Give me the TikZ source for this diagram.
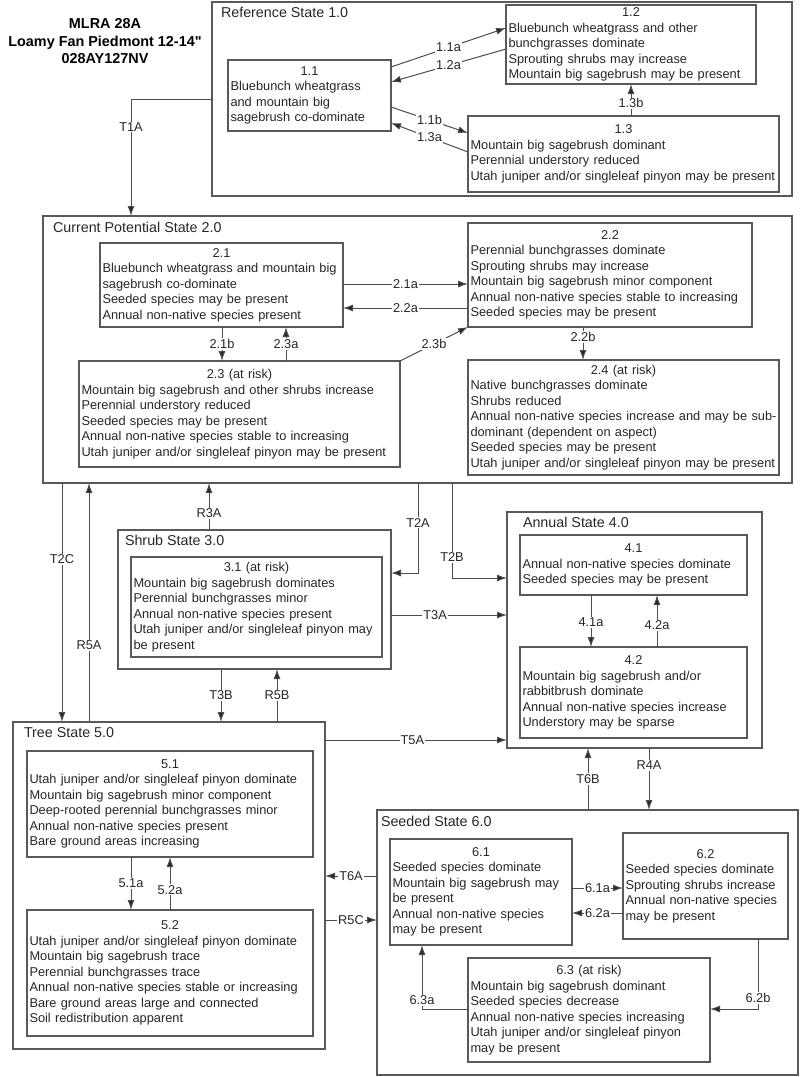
\documentclass[tikz,border=0pt]{standalone}
\usepackage{fontspec}
\setmainfont{Liberation Sans}
\newfontfamily\plainq{Liberation Sans}
\usepackage{tikz}
\usetikzlibrary{arrows.meta}

\newcommand{\hd}[1]{\makebox[\linewidth]{#1}\\}

\begin{document}
\begin{tikzpicture}[x=1pt, y=-1pt,
  every node/.style={outer sep=0pt, text=black!85},
  state/.style={draw=black!65, line width=1.4pt, anchor=north west, inner sep=0pt},
  phase/.style={draw=black!65, line width=1.1pt, anchor=north west, inner xsep=2.5pt, inner ysep=0pt, align=left, font=\fontsize{12.8}{15.5}\selectfont},
  tag/.style={anchor=west, inner sep=0pt, font=\fontsize{14.3}{16}\selectfont},
  lbl/.style={fill=white, inner sep=1pt, font=\fontsize{12.8}{14}\selectfont},
  arr/.style={draw=black!70, line width=1pt, -{Latex[length=10pt,width=7pt,fill=black!85]}}]
\useasboundingbox (0,0) rectangle (800,1077);

\node[align=center, text=black, font=\bfseries\fontsize{14.4}{17.5}\selectfont] (title) at (105,41.5) {MLRA 28A\\Loamy Fan Piedmont 12-14{\plainq\bfseries "}\\028AY127NV};

\node[state, minimum width=580, minimum height=194] (s1) at (212,2) {};
\node[tag] (t1) at (221,12) {Reference State 1.0};
\node[phase, text width=158, minimum height=71] (b11) at (228,60) {\hd{1.1}Bluebunch wheatgrass\\and mountain big\\sagebrush co-dominate};
\node[phase, text width=245, minimum height=79] (b12) at (506,5) {\hd{1.2}Bluebunch wheatgrass and other\\bunchgrasses dominate\\Sprouting shrubs may increase\\Mountain big sagebrush may be present};
\node[phase, text width=306, minimum height=76] (b13) at (468,116) {\hd{1.3}Mountain big sagebrush dominant\\Perennial understory reduced\\Utah juniper and/or singleleaf pinyon may be present};

\node[state, minimum width=749, minimum height=267] (s2) at (43,216) {};
\node[tag] (t2) at (53,227) {Current Potential State 2.0};
\node[phase, text width=238, minimum height=84] (b21) at (100,243) {\hd{2.1}Bluebunch wheatgrass and mountain big\\sagebrush co-dominate\\Seeded species may be present\\Annual non-native species present};
\node[phase, text width=279, minimum height=104] (b22) at (468,223) {\hd{2.2}Perennial bunchgrasses dominate\\Sprouting shrubs may increase\\Mountain big sagebrush minor component\\Annual non-native species stable to increasing\\Seeded species may be present};
\node[phase, text width=316, minimum height=106] (b23) at (79,361) {\hd{2.3 (at risk)}Mountain big sagebrush and other shrubs increase\\Perennial understory reduced\\Seeded species may be present\\Annual non-native species stable to increasing\\Utah juniper and/or singleleaf pinyon may be present};
\node[phase, text width=306, minimum height=115] (b24) at (468,360) {\hd{2.4 (at risk)}Native bunchgrasses dominate\\Shrubs reduced\\Annual non-native species increase and may be sub-\\dominant (dependent on aspect)\\Seeded species may be present\\Utah juniper and/or singleleaf pinyon may be present};

\node[state, minimum width=273, minimum height=139] (s3) at (118,530) {};
\node[tag] (t3) at (125,540) {Shrub State 3.0};
\node[phase, text width=246, minimum height=100] (b31) at (131,557) {\hd{3.1 (at risk)}Mountain big sagebrush dominates\\Perennial bunchgrasses minor\\Annual non-native species present\\Utah juniper and/or singleleaf pinyon may\\be present};

\node[state, minimum width=255, minimum height=236] (s4) at (507,512) {};
\node[tag] (t4) at (523,522) {Annual State 4.0};
\node[phase, text width=222, minimum height=60] (b41) at (520,535) {\hd{4.1}Annual non-native species dominate\\Seeded species may be present};
\node[phase, text width=222, minimum height=91] (b42) at (520,647) {\hd{4.2}Mountain big sagebrush and/or\\rabbitbrush dominate\\Annual non-native species increase\\Understory may be sparse};

\node[state, minimum width=312, minimum height=327] (s5) at (13,722) {};
\node[tag] (t5) at (24,733) {Tree State 5.0};
\node[phase, text width=281, minimum height=106] (b51) at (27,751) {\hd{5.1}Utah juniper and/or singleleaf pinyon dominate\\Mountain big sagebrush minor component\\Deep-rooted perennial bunchgrasses minor\\Annual non-native species present\\Bare ground areas increasing};
\node[phase, text width=281, minimum height=126] (b52) at (27,910) {\hd{5.2}Utah juniper and/or singleleaf pinyon dominate\\Mountain big sagebrush trace\\Perennial bunchgrasses trace\\Annual non-native species stable or increasing\\Bare ground areas large and connected\\Soil redistribution apparent};

\node[state, minimum width=421, minimum height=265] (s6) at (377,810) {};
\node[tag] (t6) at (381,821) {Seeded State 6.0};
\node[phase, text width=177, minimum height=106] (b61) at (390,839) {\hd{6.1}Seeded species dominate\\Mountain big sagebrush may\\be present\\Annual non-native species\\may be present};
\node[phase, text width=160, minimum height=106] (b62) at (623,833) {\hd{6.2}Seeded species dominate\\Sprouting shrubs increase\\Annual non-native species\\may be present};
\node[phase, text width=237, minimum height=104] (b63) at (468,958) {\hd{6.3 (at risk)}Mountain big sagebrush dominant\\Seeded species decrease\\Annual non-native species increasing\\Utah juniper and/or singleleaf pinyon\\may be present};

\draw[arr] (b11.east |- 0,67) -- node[lbl]{1.1a} (b12.west |- 0,28);
\draw[arr] (b12.west |- 0,49) -- node[lbl]{1.2a} (b11.east |- 0,82);
\draw[arr] (b11.east |- 0,107) -- node[lbl]{1.1b} (b13.west |- 0,133);
\draw[arr] (b13.west |- 0,152) -- node[lbl]{1.3a} (b11.east |- 0,123);
\draw[arr] (b13.north -| 631,0) -- node[lbl, pos=0.4]{1.3b} (b12.south -| 631,0);
\draw[arr] (s1.west) -| node[lbl, pos=0.62]{T1A} (s2.north -| 131,0);

\draw[arr] (b21.east |- 0,284) -- node[lbl]{2.1a} (b22.west |- 0,284);
\draw[arr] (b22.west |- 0,308) -- node[lbl]{2.2a} (b21.east |- 0,308);
\draw[arr] (b21.south -| 222,0) -- node[lbl]{2.1b} (b23.north -| 222,0);
\draw[arr] (b23.north -| 286,0) -- node[lbl]{2.3a} (b21.south -| 286,0);
\draw[arr] (b23.north east) -- node[lbl]{2.3b} (b22.south west);
\draw[arr] (b22.south -| 583,0) -- node[lbl, pos=0.3]{2.2b} (b24.north -| 583,0);

\draw[arr] (s2.south -| 62,0) -- node[lbl, pos=0.32]{T2C} (s5.north -| 62,0);
\draw[arr] (s5.north -| 89,0) -- node[lbl, pos=0.32]{R5A} (s2.south -| 89,0);
\draw[arr] (s3.north -| 209,0) -- node[lbl, pos=0.35]{R3A} (s2.south -| 209,0);
\draw[arr] (s2.south -| 418,0) |- node[lbl, pos=0.22]{T2A} (s3.east |- 0,573);
\draw[arr] (s2.south -| 452,0) |- node[lbl, pos=0.39]{T2B} (s4.west |- 0,578);
\draw[arr] (s3.east |- 0,615) -- node[lbl, pos=0.38]{T3A} (s4.west |- 0,615);
\draw[arr] (s3.south -| 221,0) -- node[lbl]{T3B} (s5.north -| 221,0);
\draw[arr] (s5.north -| 277,0) -- node[lbl]{R5B} (s3.south -| 277,0);

\draw[arr] (b41.south -| 591,0) -- node[lbl, pos=0.52]{4.1a} (b42.north -| 591,0);
\draw[arr] (b42.north -| 657,0) -- node[lbl, pos=0.42]{4.2a} (b41.south -| 657,0);

\draw[arr] (s5.east |- 0,740) -- node[lbl, pos=0.48]{T5A} (s4.west |- 0,740);
\draw[arr] (s6.north -| 588,0) -- node[lbl]{T6B} (s4.south -| 588,0);
\draw[arr] (s4.south -| 649,0) -- node[lbl, pos=0.28]{R4A} (s6.north -| 649,0);
\draw[arr] (s6.west |- 0,876) -- node[lbl]{T6A} (s5.east |- 0,876);
\draw[arr] (s5.east |- 0,920) -- node[lbl]{R5C} (s6.west |- 0,920);

\draw[arr] (b51.south -| 131,0) -- node[lbl]{5.1a} (b52.north -| 131,0);
\draw[arr] (b52.north -| 170,0) -- node[lbl, pos=0.38]{5.2a} (b51.south -| 170,0);

\draw[arr] (b61.east |- 0,888) -- node[lbl]{6.1a} (b62.west |- 0,888);
\draw[arr] (b62.west |- 0,913) -- node[lbl]{6.2a} (b61.east |- 0,913);
\draw[arr] (b62.south -| 758,0) |- node[lbl, pos=0.42]{6.2b} (b63.east |- 0,1009);
\draw[arr] (b63.west |- 0,1009) -| node[lbl, pos=0.57]{6.3a} (b61.south -| 422,0);
\end{tikzpicture}
\end{document}
